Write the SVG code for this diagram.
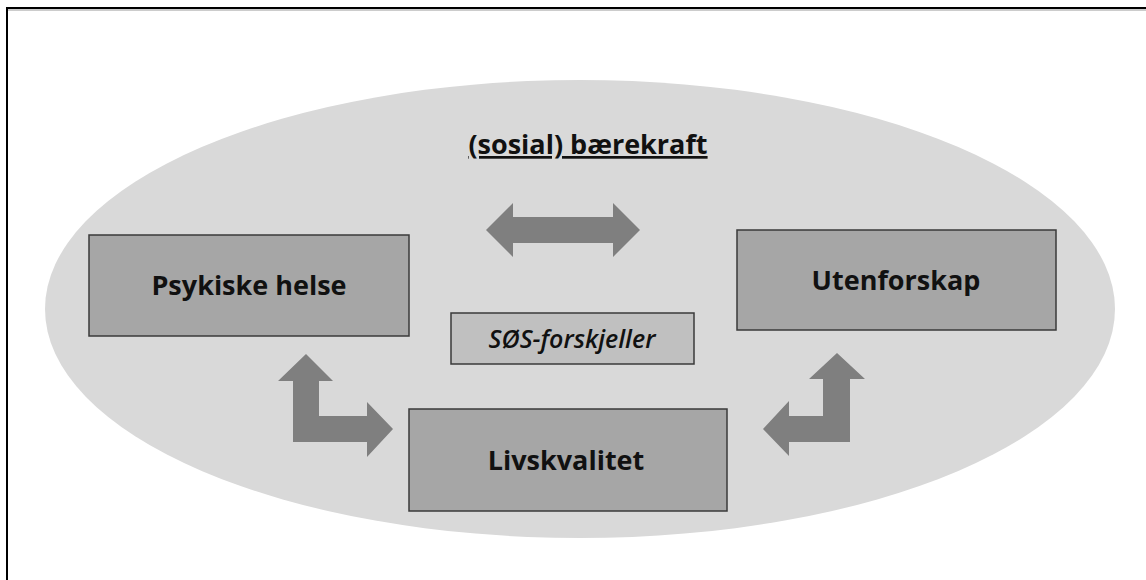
<svg xmlns="http://www.w3.org/2000/svg" width="1146" height="580" viewBox="0 0 1146 580">
<style>
.box{fill:#a6a6a6;stroke:#3a3a3a;stroke-width:1.5}
.lbl{font-family:"Open Sans","Liberation Sans",sans-serif;font-weight:bold;font-size:27px;fill:#111;text-anchor:middle}
.arr{fill:#7f7f7f}
</style>
<rect x="0" y="0" width="1146" height="580" fill="#ffffff"/>
<rect x="7" y="8" width="1160" height="600" fill="none" stroke="#000" stroke-width="2"/>
<line x1="8" y1="10" x2="1146" y2="10" stroke="#999" stroke-width="1"/>
<g id="bg">
<ellipse cx="580" cy="309" rx="535" ry="229" fill="#d9d9d9"/>
<text x="588" y="154" class="lbl" font-size="28" text-decoration="underline">(sosial) bærekraft</text>
</g>
<g id="connectors">
<polygon class="arr" points="486,230 513,203 513,217 613,217 613,203 640,230 613,257 613,243 513,243 513,257"/>
<polygon class="arr" points="306,354 333,381 319,381 319,416 367,416 367,402 393,429 367,457 367,442 293,442 293,381 278,381"/>
<polygon class="arr" points="837,353 865,379 850,379 850,442 789,442 789,456 763,429 789,401 789,416 823,416 823,379 809,379"/>
</g>
<g id="psykiske">
<rect class="box" x="89" y="235" width="320" height="101"/>
<text class="lbl" x="249" y="295">Psykiske helse</text>
</g>
<g id="utenforskap">
<rect class="box" x="737" y="230" width="319" height="100"/>
<text class="lbl" x="896" y="290">Utenforskap</text>
</g>
<g id="livskvalitet">
<rect class="box" x="409" y="409" width="318" height="102"/>
<text class="lbl" x="566" y="470">Livskvalitet</text>
</g>
<g id="sos">
<rect x="451" y="313" width="243" height="51" fill="#c0c0c0" stroke="#3a3a3a" stroke-width="1.5"/>
<text x="572" y="348" font-family="'Open Sans','Liberation Sans',sans-serif" font-style="italic" font-weight="600" font-size="25" fill="#111" text-anchor="middle">SØS-forskjeller</text>
</g>
</svg>
